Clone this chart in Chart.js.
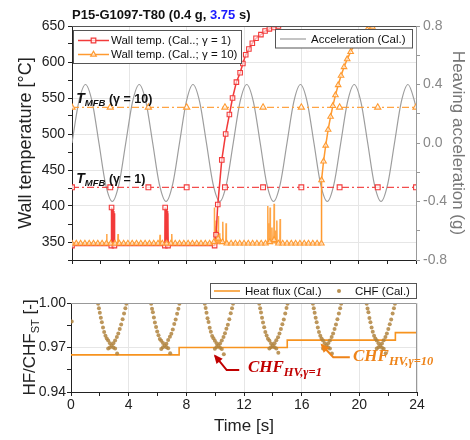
<!DOCTYPE html>
<html>
<head>
<meta charset="utf-8">
<script src="https://cdn.jsdelivr.net/npm/chart.js@4.4.0/dist/chart.umd.min.js"></script>
<style>
  html, body { margin: 0; padding: 0; background: #fff; }
  #wrap { position: relative; width: 470px; height: 440px; }
  #topChart { position: absolute; left: 0; top: 0; }
  #botChart { position: absolute; left: 0; top: 272px; }
</style>
</head>
<body>
<div id="wrap">
  <canvas id="topChart" width="470" height="272" style="width:470px;height:272px"></canvas>
  <canvas id="botChart" width="470" height="168" style="width:470px;height:168px"></canvas>
</div>
<script>
// ---- data ----
// heaving acceleration (g), right axis
const accelTime = [0, 0.47, 0.94, 1.41, 1.88, 2.34, 2.81, 3.28, 3.75, 4.22, 4.69, 5.16, 5.63, 6.09, 6.56, 7.03,
  7.5, 7.97, 8.44, 8.91, 9.38, 9.84, 10.31, 10.78, 11.25, 11.72, 12.19, 12.66, 13.13, 13.59, 14.06, 14.53,
  15, 15.47, 15.94, 16.41, 16.88, 17.34, 17.81, 18.28, 18.75, 19.22, 19.69, 20.16, 20.63, 21.09, 21.56, 22.03,
  22.5, 22.97, 23.44, 23.91, 24];
const accelValue = [0, 0.28, 0.4, 0.28, 0, -0.28, -0.4, -0.28, 0, 0.28, 0.4, 0.28, 0, -0.28, -0.4, -0.28,
  0, 0.28, 0.4, 0.28, 0, -0.28, -0.4, -0.28, 0, 0.28, 0.4, 0.28, 0, -0.28, -0.4, -0.28,
  0, 0.28, 0.4, 0.28, 0, -0.28, -0.4, -0.28, 0, 0.28, 0.4, 0.28, 0, -0.28, -0.4, -0.28,
  0, 0.28, 0.4, 0.28, 0.24];

// wall temperature, gamma = 1
const redTime = [0, 2.74, 2.76, 2.96, 6.48, 6.5, 6.7, 9.95, 10.05, 10.17, 10.45, 10.72, 10.98, 11.2, 11.47, 11.73,
  11.92, 12.12, 12.34, 12.58, 12.84, 13.18, 13.47, 13.77, 14.08, 14.4, 15.2, 16.5, 18, 20, 22, 24];
const redTemp = [345, 345, 398, 345, 345, 398, 345, 345, 360, 402, 464, 500, 527, 550, 572, 585,
  598, 610, 618, 626, 633, 638, 643, 646, 648, 650, 655, 660, 666, 672, 676, 680];
const redSpikeTime = [2.78, 2.82, 2.86, 2.9, 2.94, 6.52, 6.56, 6.6, 6.64, 6.68];
const redSpikeTop = [397, 396, 395, 393, 390, 397, 396, 395, 393, 390];

// wall temperature, gamma = 10
const orangeTime = [0, 0.3, 0.6, 0.9, 1.2, 1.5, 1.8, 2.1, 2.4, 2.7, 3, 3.3, 3.6, 3.9, 4.2, 4.5, 4.8, 5.1, 5.4, 5.7,
  6, 6.3, 6.6, 6.9, 7.2, 7.5, 7.8, 8.1, 8.4, 8.7, 9, 9.3, 9.6, 9.9, 10.2, 10.5, 10.8, 11.1, 11.4, 11.7,
  12, 12.3, 12.6, 12.9, 13.2, 13.5, 13.8, 14.1, 14.4, 14.7, 15, 15.3, 15.6, 15.9, 16.2, 16.5, 16.8, 17.1, 17.4,
  17.41, 17.55, 17.7, 17.87, 18.04, 18.2, 18.38, 18.57, 18.77, 18.98, 19.2, 19.44, 19.7, 19.98, 20.28, 20.6,
  20.95, 21.35, 21.8, 22.5, 23.2, 24];
const orangeTemp = [348, 348, 348, 348, 348, 348, 348, 348, 348, 348, 348, 348, 348, 348, 348, 348, 348, 348, 348, 348,
  348, 348, 348, 348, 348, 348, 348, 348, 348, 348, 348, 348, 348, 350, 355, 350, 348, 348, 348, 348,
  348, 348, 348, 348, 348, 348, 350, 353, 348, 348, 348, 348, 348, 348, 348, 348, 348, 348, 348,
  436, 462, 484, 506, 524, 539, 554, 568, 581, 593, 604, 614, 624, 632, 639, 645,
  649, 653, 657, 662, 666, 670];
const orangeSpikeTime = [2.42, 3.21, 6.14, 6.96, 9.93, 10.0, 10.06, 10.14, 10.21, 10.3, 10.52, 10.75,
  13.66, 13.75, 13.82, 13.95, 14.1, 14.2, 14.29, 14.52];
const orangeSpikeTop = [361, 361, 360, 361, 398, 372, 380, 366, 386, 362, 378, 376,
  400, 376, 398, 370, 403, 366, 380, 382];

// minimum film boiling temperatures
const tmfbTime = [0, 2.67, 5.33, 8, 10.67, 13.33, 16, 18.67, 21.33, 24];
const tmfbGamma1 = 426;
const tmfbGamma10 = 537;

// heat flux / CHF_ST
const hfTime = [0, 7.5, 15, 22.5, 24];
const hfValue = [0.965, 0.970, 0.975, 0.980, 0.980];

const chfTime = [0.05,
  1.88, 1.94, 2.00, 2.07, 2.14, 2.22, 2.30, 2.39, 2.48, 2.58, 2.70, 2.82, 2.94, 3.06, 2.58, 2.70, 2.94, 3.06, 3.18, 3.28, 3.38, 3.48, 3.58, 3.68, 3.77, 3.84, 3.20,
  5.56, 5.62, 5.68, 5.75, 5.82, 5.90, 5.98, 6.07, 6.16, 6.26, 6.38, 6.50, 6.62, 6.74, 6.26, 6.38, 6.62, 6.74, 6.86, 6.96, 7.06, 7.16, 7.26, 7.36, 7.45, 7.52, 6.88,
  9.28, 9.34, 9.40, 9.47, 9.54, 9.62, 9.70, 9.79, 9.88, 9.98, 10.10, 10.22, 10.34, 10.46, 9.98, 10.10, 10.34, 10.46, 10.58, 10.68, 10.78, 10.88, 10.98, 11.08, 11.17, 11.24, 10.60,
  13.06, 13.12, 13.18, 13.25, 13.32, 13.40, 13.48, 13.57, 13.66, 13.76, 13.88, 14.00, 14.12, 14.24, 13.76, 13.88, 14.12, 14.24, 14.36, 14.46, 14.56, 14.66, 14.76, 14.86, 14.95, 15.02, 14.38,
  16.78, 16.84, 16.90, 16.97, 17.04, 17.12, 17.20, 17.29, 17.38, 17.48, 17.60, 17.72, 17.84, 17.96, 17.48, 17.60, 17.84, 17.96, 18.08, 18.18, 18.28, 18.38, 18.48, 18.58, 18.67, 18.74, 18.10,
  20.51, 20.57, 20.63, 20.70, 20.77, 20.85, 20.93, 21.02, 21.11, 21.21, 21.33, 21.45, 21.57, 21.69, 21.21, 21.33, 21.57, 21.69, 21.81, 21.91, 22.01, 22.11, 22.21, 22.31, 22.40, 22.47, 21.83];
const chfValue = [0.9875,
  0.9995, 0.9965, 0.9935, 0.9900, 0.9870, 0.9835, 0.9805, 0.9780, 0.9760, 0.9748, 0.9728, 0.9712, 0.9700, 0.9693, 0.9693, 0.9700, 0.9728, 0.9748, 0.9770, 0.9795, 0.9825, 0.9855, 0.9890, 0.9930, 0.9965, 0.9995, 0.9660,
  0.9995, 0.9962, 0.9938, 0.9902, 0.9868, 0.9838, 0.9808, 0.9782, 0.9758, 0.9746, 0.9730, 0.9714, 0.9702, 0.9695, 0.9690, 0.9702, 0.9726, 0.9750, 0.9772, 0.9793, 0.9822, 0.9858, 0.9888, 0.9928, 0.9962, 0.9995, 0.9662,
  0.9995, 0.9966, 0.9934, 0.9898, 0.9872, 0.9833, 0.9806, 0.9778, 0.9762, 0.9745, 0.9729, 0.9713, 0.9698, 0.9690, 0.9692, 0.9703, 0.9727, 0.9747, 0.9771, 0.9796, 0.9826, 0.9853, 0.9891, 0.9931, 0.9964, 0.9995, 0.9655,
  0.9995, 0.9964, 0.9936, 0.9901, 0.9869, 0.9836, 0.9804, 0.9781, 0.9759, 0.9748, 0.9727, 0.9711, 0.9701, 0.9694, 0.9693, 0.9701, 0.9729, 0.9749, 0.9769, 0.9794, 0.9824, 0.9856, 0.9889, 0.9929, 0.9966, 0.9995, 0.9664,
  0.9995, 0.9965, 0.9935, 0.9900, 0.9870, 0.9835, 0.9805, 0.9780, 0.9760, 0.9748, 0.9728, 0.9712, 0.9700, 0.9693, 0.9693, 0.9700, 0.9728, 0.9748, 0.9770, 0.9795, 0.9825, 0.9855, 0.9890, 0.9930, 0.9965, 0.9995, 0.9660,
  0.9995, 0.9963, 0.9937, 0.9899, 0.9871, 0.9834, 0.9807, 0.9779, 0.9761, 0.9747, 0.9729, 0.9712, 0.9699, 0.9692, 0.9694, 0.9701, 0.9727, 0.9749, 0.9771, 0.9794, 0.9824, 0.9857, 0.9889, 0.9929, 0.9964, 0.9995, 0.9661];

// ---- styling ----
const FONT = "'Liberation Sans', Arial, sans-serif";
const SERIF = "'Liberation Serif', 'DejaVu Serif', serif";
const RED = '#f23a3a';
const ORANGE = '#ff9a30';
const HF_ORANGE = '#f7931e';
const GRAY = '#9d9d9d';
const GRID = '#e6e6e6';
const CLEAR = 'rgba(0,0,0,0)';

Chart.defaults.font.family = FONT;
Chart.defaults.color = '#222';

const pts = (xs, ys) => xs.map((x, i) => ({ x, y: ys[i] }));
const spikes = (xs, tops, base) =>
  xs.flatMap((x, i) => [{ x: x - 0.02, y: base }, { x, y: tops[i] }, { x: x + 0.02, y: base }, { x, y: null }]);

function runs(ctx, x, y, parts) {
  parts.forEach(p => {
    ctx.font = p.font;
    ctx.fillStyle = p.color;
    ctx.fillText(p.t, x, y + (p.dy || 0));
    x += ctx.measureText(p.t).width;
  });
  return x;
}
function runsWidth(ctx, parts) {
  let w = 0;
  parts.forEach(p => { ctx.font = p.font; w += ctx.measureText(p.t).width; });
  return w;
}
function marker(ctx, style, x, y, color) {
  ctx.save();
  ctx.strokeStyle = color;
  ctx.fillStyle = 'rgba(255,255,255,0.7)';
  ctx.lineWidth = 1.2;
  ctx.beginPath();
  if (style === 'rect') {
    ctx.rect(x - 2.3, y - 2.3, 4.6, 4.6);
  } else {
    ctx.moveTo(x, y - 3.2);
    ctx.lineTo(x + 2.8, y + 1.6);
    ctx.lineTo(x - 2.8, y + 1.6);
    ctx.closePath();
  }
  ctx.fill();
  ctx.stroke();
  ctx.restore();
}

// ---- top panel decorations ----
const topDecor = {
  id: 'topDecor',
  afterDraw(chart) {
    const { ctx, chartArea: a, scales } = chart;
    const xs = scales.x, ys = scales.y;
    ctx.save();
    ctx.textBaseline = 'alphabetic';

    // frame top line
    ctx.strokeStyle = '#555';
    ctx.lineWidth = 1;
    ctx.beginPath();
    ctx.moveTo(a.left, a.top + 0.5);
    ctx.lineTo(a.right, a.top + 0.5);
    ctx.stroke();

    // title
    const tf = 'bold 13px ' + FONT;
    runs(ctx, 72, 19, [
      { t: 'P15-G1097-T80 (0.4 g, ', font: tf, color: '#111' },
      { t: '3.75', font: tf, color: '#1a1aff' },
      { t: ' s)', font: tf, color: '#111' }
    ]);

    // T_MFB labels
    const lab = g => [
      { t: 'T', font: 'italic bold 14px ' + FONT, color: '#111' },
      { t: 'MFB', font: 'italic bold 9.5px ' + FONT, color: '#111', dy: 3 },
      { t: ' (γ = ' + g + ')', font: 'bold 12.5px ' + FONT, color: '#111' }
    ];
    runs(ctx, xs.getPixelForValue(0.3), ys.getPixelForValue(543), lab('10'));
    runs(ctx, xs.getPixelForValue(0.3), ys.getPixelForValue(432), lab('1'));

    // legend boxes
    ctx.fillStyle = '#fff';
    ctx.strokeStyle = '#555';
    ctx.lineWidth = 1;
    ctx.fillRect(73.5, 30.5, 168, 33);
    ctx.strokeRect(73.5, 30.5, 168, 33);
    ctx.fillRect(275.5, 29.5, 137, 18.5);
    ctx.strokeRect(275.5, 29.5, 137, 18.5);

    ctx.textBaseline = 'middle';
    const lf = '11.5px ' + FONT;
    [[40.5, RED, 'rect', 'Wall temp. (Cal..; γ = 1)'], [54.5, ORANGE, 'tri', 'Wall temp. (Cal..; γ = 10)']]
      .forEach(([y, c, s, t]) => {
        ctx.strokeStyle = c;
        ctx.lineWidth = 1.5;
        ctx.beginPath(); ctx.moveTo(78, y); ctx.lineTo(109, y); ctx.stroke();
        marker(ctx, s, 93.5, y, c);
        ctx.font = lf; ctx.fillStyle = '#111';
        ctx.fillText(t, 111, y + 0.5);
      });
    ctx.strokeStyle = GRAY;
    ctx.lineWidth = 1.2;
    ctx.beginPath(); ctx.moveTo(280, 39); ctx.lineTo(306, 39); ctx.stroke();
    ctx.font = lf; ctx.fillStyle = '#111';
    ctx.fillText('Acceleration (Cal.)', 311, 39.5);

    // axis titles
    ctx.textAlign = 'center';
    ctx.save();
    ctx.translate(26.5, (a.top + a.bottom) / 2);
    ctx.rotate(-Math.PI / 2);
    ctx.font = '18px ' + FONT; ctx.fillStyle = '#222';
    ctx.fillText('Wall temperature [°C]', 0, 0);
    ctx.restore();
    ctx.save();
    ctx.translate(458, (a.top + a.bottom) / 2);
    ctx.rotate(Math.PI / 2);
    ctx.font = '17px ' + FONT; ctx.fillStyle = '#777';
    ctx.fillText('Heaving acceleration (g)', 0, 0);
    ctx.restore();
    ctx.restore();
  }
};

// ---- bottom panel decorations ----
const botDecor = {
  id: 'botDecor',
  afterDraw(chart) {
    const { ctx, chartArea: a, scales } = chart;
    const xs = scales.x, ys = scales.y;
    ctx.save();

    // frame top + right
    ctx.strokeStyle = '#999';
    ctx.lineWidth = 1;
    ctx.beginPath();
    ctx.moveTo(a.left, a.top + 0.5);
    ctx.lineTo(a.right - 0.5, a.top + 0.5);
    ctx.lineTo(a.right - 0.5, a.bottom);
    ctx.stroke();

    // legend
    ctx.fillStyle = '#fff';
    ctx.strokeStyle = '#555';
    ctx.fillRect(210.5, 11.5, 206, 15);
    ctx.strokeRect(210.5, 11.5, 206, 15);
    ctx.strokeStyle = HF_ORANGE;
    ctx.lineWidth = 1.5;
    ctx.beginPath(); ctx.moveTo(214, 19); ctx.lineTo(240, 19); ctx.stroke();
    ctx.fillStyle = 'rgba(176,132,62,0.9)';
    ctx.beginPath(); ctx.arc(339, 19, 2, 0, Math.PI * 2); ctx.fill();
    ctx.textBaseline = 'middle';
    ctx.font = '11.5px ' + FONT; ctx.fillStyle = '#111';
    ctx.fillText('Heat flux (Cal.)', 245, 19.5);
    ctx.fillText('CHF (Cal.)', 355, 19.5);

    // y title with subscript
    ctx.textBaseline = 'alphabetic';
    const yt = [
      { t: 'HF/CHF', font: '17px ' + FONT, color: '#222' },
      { t: 'ST', font: '11px ' + FONT, color: '#222', dy: 4 },
      { t: ' [-]', font: '17px ' + FONT, color: '#222' }
    ];
    ctx.save();
    ctx.translate(35, (a.top + a.bottom) / 2);
    ctx.rotate(-Math.PI / 2);
    runs(ctx, -runsWidth(ctx, yt) / 2, 0, yt);
    ctx.restore();

    // x title
    ctx.textAlign = 'center';
    ctx.font = '17px ' + FONT; ctx.fillStyle = '#222';
    ctx.fillText('Time [s]', (a.left + a.right) / 2, 159);
    ctx.textAlign = 'left';

    // annotations
    const arrow = (pts, color) => {
      const p = pts.map(([t, v]) => [xs.getPixelForValue(t), ys.getPixelForValue(v)]);
      ctx.strokeStyle = color; ctx.fillStyle = color; ctx.lineWidth = 2;
      ctx.beginPath();
      ctx.moveTo(p[0][0], p[0][1]);
      p.slice(1).forEach(q => ctx.lineTo(q[0], q[1]));
      ctx.stroke();
      const [tx, ty] = p[p.length - 1], [px, py] = p[p.length - 2];
      const ang = Math.atan2(ty - py, tx - px);
      ctx.beginPath();
      ctx.moveTo(tx + 2 * Math.cos(ang), ty + 2 * Math.sin(ang));
      ctx.lineTo(tx - 7 * Math.cos(ang) + 4 * Math.sin(ang), ty - 7 * Math.sin(ang) - 4 * Math.cos(ang));
      ctx.lineTo(tx - 7 * Math.cos(ang) - 4 * Math.sin(ang), ty - 7 * Math.sin(ang) + 4 * Math.cos(ang));
      ctx.closePath();
      ctx.fill();
    };
    arrow([[11.67, 0.9548], [10.8, 0.9548], [10.0, 0.9643]], '#c00000');
    arrow([[19.34, 0.9634], [18.19, 0.9634], [17.4, 0.9717]], '#ee8318');

    runs(ctx, xs.getPixelForValue(12.27), ys.getPixelForValue(0.9537), [
      { t: 'CHF', font: 'italic bold 17px ' + SERIF, color: '#c00000' },
      { t: 'HV,γ=1', font: 'italic bold 12.5px ' + SERIF, color: '#c00000', dy: 4 }
    ]);
    runs(ctx, xs.getPixelForValue(19.56), ys.getPixelForValue(0.9611), [
      { t: 'CHF', font: 'italic bold 17px ' + SERIF, color: '#ee8318' },
      { t: 'HV,γ=10', font: 'italic bold 12.5px ' + SERIF, color: '#ee8318', dy: 4 }
    ]);
    ctx.restore();
  }
};

// ---- top chart ----
new Chart(document.getElementById('topChart'), {
  type: 'line',
  data: {
    datasets: [
      {
        label: 'Wall temp. (Cal..; γ = 10)',
        data: pts(orangeTime, orangeTemp),
        borderColor: ORANGE, borderWidth: 1.5,
        pointStyle: 'triangle', pointRadius: 3.2,
        pointBorderColor: ORANGE, pointBackgroundColor: 'rgba(255,255,255,0.6)', pointBorderWidth: 1.1,
        order: 1
      },
      {
        label: 'Wall temp. (Cal..; γ = 1)',
        data: pts(redTime, redTemp),
        borderColor: RED, borderWidth: 1.5,
        pointStyle: 'rect', pointRadius: 3.2,
        pointBorderColor: RED, pointBackgroundColor: 'rgba(255,255,255,0.6)', pointBorderWidth: 1.1,
        order: 2
      },
      {
        label: 'orange spikes',
        data: spikes(orangeSpikeTime, orangeSpikeTop, 348),
        borderColor: 'rgba(255,150,40,0.85)', borderWidth: 1.5, pointRadius: 0, spanGaps: false,
        order: 3
      },
      {
        label: 'red spikes',
        data: spikes(redSpikeTime, redSpikeTop, 345),
        borderColor: RED, borderWidth: 1.8, pointRadius: 0, spanGaps: false,
        order: 4
      },
      {
        label: 'T_MFB gamma 1',
        data: tmfbTime.map(t => ({ x: t, y: tmfbGamma1 })),
        borderColor: 'rgba(242,58,58,0.9)', borderWidth: 1.3, borderDash: [7, 3, 2, 3],
        pointStyle: 'rect', pointRadius: 3.4,
        pointBorderColor: RED, pointBackgroundColor: 'rgba(255,255,255,0.8)', pointBorderWidth: 1.1,
        order: 5
      },
      {
        label: 'T_MFB gamma 10',
        data: tmfbTime.map(t => ({ x: t, y: tmfbGamma10 })),
        borderColor: 'rgba(255,154,48,0.9)', borderWidth: 1.3, borderDash: [7, 3, 2, 3],
        pointStyle: 'triangle', pointRadius: 3.6,
        pointBorderColor: ORANGE, pointBackgroundColor: 'rgba(255,255,255,0.8)', pointBorderWidth: 1.1,
        order: 5
      },
      {
        label: 'Acceleration (Cal.)',
        data: pts(accelTime, accelValue),
        yAxisID: 'y1',
        borderColor: GRAY, borderWidth: 1.2, pointRadius: 0,
        cubicInterpolationMode: 'monotone',
        order: 6
      }
    ]
  },
  options: {
    responsive: false,
    animation: false,
    devicePixelRatio: 1,
    layout: { padding: { top: 26, left: 0, right: 0, bottom: 0 } },
    plugins: { legend: { display: false }, tooltip: { enabled: false } },
    scales: {
      x: {
        type: 'linear', min: 0, max: 24,
        ticks: { stepSize: 2, display: false, autoSkip: false },
        grid: {
          color: c => (c.tick && Math.round(c.tick.value) % 4 === 0 ? GRID : CLEAR),
          tickColor: '#222', tickLength: 4
        },
        border: { color: '#222' },
        afterFit: s => { s.height = 12; }
      },
      y: {
        position: 'left', min: 325, max: 650,
        ticks: {
          stepSize: 25, autoSkip: false, padding: 3, color: '#222',
          font: { size: 14 },
          callback: v => (Math.round(v) % 50 === 0 ? v : '')
        },
        grid: {
          color: c => (c.tick && Math.round(c.tick.value) % 50 === 0 ? GRID : CLEAR),
          tickColor: '#222', tickLength: 4
        },
        border: { color: '#222' },
        afterFit: s => { s.width = 72; }
      },
      y1: {
        position: 'right', min: -0.8, max: 0.8,
        ticks: {
          stepSize: 0.2, autoSkip: false, padding: 3, color: '#888',
          font: { size: 14 },
          callback: v => { const r = Math.round(v * 10); return r % 4 === 0 ? (r / 10).toFixed(1) : ''; }
        },
        grid: { drawOnChartArea: false, tickColor: '#999', tickLength: 4 },
        border: { color: '#999' },
        afterFit: s => { s.width = 54; }
      }
    }
  },
  plugins: [topDecor]
});

// ---- bottom chart ----
new Chart(document.getElementById('botChart'), {
  type: 'line',
  data: {
    datasets: [
      {
        label: 'CHF (Cal.)',
        data: pts(chfTime, chfValue),
        showLine: false,
        pointRadius: 2, pointBorderWidth: 0,
        pointBackgroundColor: 'rgba(176,132,62,0.85)',
        order: 1
      },
      {
        label: 'Heat flux (Cal.)',
        data: pts(hfTime, hfValue),
        stepped: 'before',
        borderColor: HF_ORANGE, borderWidth: 1.6, pointRadius: 0,
        order: 2
      }
    ]
  },
  options: {
    responsive: false,
    animation: false,
    devicePixelRatio: 1,
    layout: { padding: { top: 31, left: 0, right: 53, bottom: 0 } },
    plugins: { legend: { display: false }, tooltip: { enabled: false } },
    scales: {
      x: {
        type: 'linear', min: 0, max: 24,
        ticks: {
          stepSize: 2, autoSkip: false, padding: 1, color: '#222', maxRotation: 0,
          font: { size: 14 },
          callback: v => (Math.round(v) % 4 === 0 ? v : '')
        },
        grid: {
          color: c => (c.tick && Math.round(c.tick.value) % 4 === 0 ? GRID : CLEAR),
          tickColor: '#222', tickLength: 4
        },
        border: { color: '#222' },
        afterFit: s => { s.height = 48; }
      },
      y: {
        min: 0.94, max: 1.0,
        ticks: {
          stepSize: 0.015, autoSkip: false, padding: 1, color: '#222',
          font: { size: 14 },
          callback: v => { const r = Math.round(v * 1000); return (r - 940) % 30 === 0 ? (r / 1000).toFixed(2) : ''; }
        },
        grid: {
          color: c => (c.tick && Math.round(c.tick.value * 1000) === 970 ? GRID : CLEAR),
          tickColor: '#222', tickLength: 4
        },
        border: { color: '#222' },
        afterFit: s => { s.width = 71; }
      }
    }
  },
  plugins: [botDecor]
});
</script>
</body>
</html>
